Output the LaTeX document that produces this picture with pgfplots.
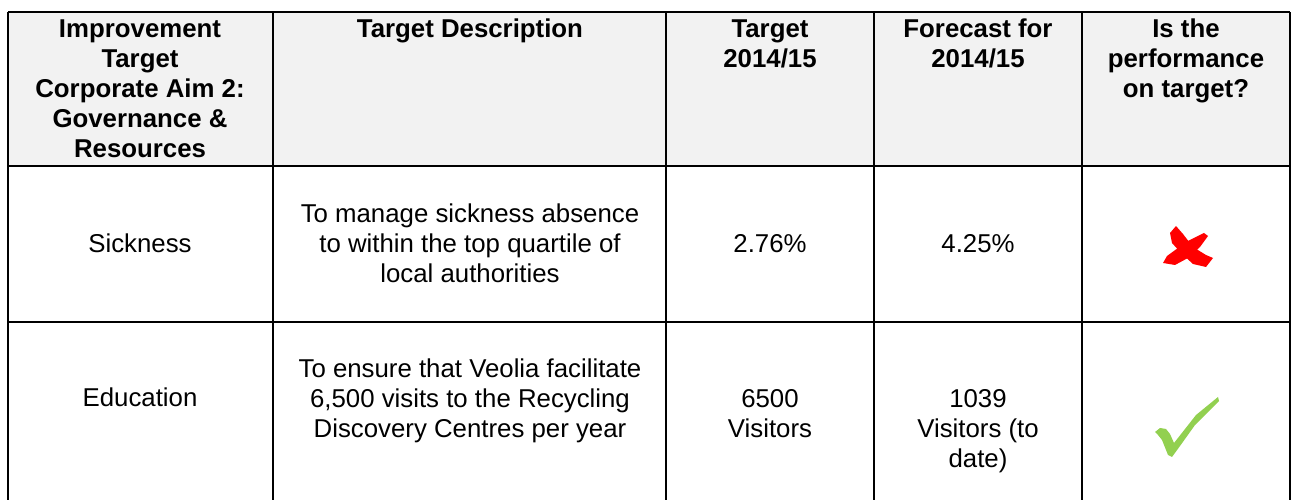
\documentclass[border=0pt]{standalone}
\usepackage{fontspec}
\setmainfont{Liberation Sans}
\usepackage{pgfplots}
\pgfplotsset{compat=1.18}
\definecolor{hdrgray}{HTML}{F2F2F2}
\definecolor{okgreen}{HTML}{92D050}
\definecolor{badred}{HTML}{FF0000}

\begin{document}
\begin{tikzpicture}[
    cell/.style={font=\fontsize{12.9}{15}\selectfont, anchor=base, inner sep=0pt},
    head/.style={font=\fontsize{12.9}{15}\selectfont\bfseries, anchor=base, inner sep=0pt},
]
\begin{axis}[
    scale only axis,
    width=646pt, height=250pt,
    xmin=0, xmax=1292, ymin=0, ymax=500,
    y dir=reverse,
    hide axis,
    clip=false,
]
% page extent
\addplot[draw=none, forget plot] coordinates {(0,0) (1292,500)};
% header shading
\fill[hdrgray] (axis cs:8,12) rectangle (axis cs:1290,166);

% grid lines
\addplot[black, line width=0.8pt] coordinates {(8,12) (1290,12)};
\addplot[black, line width=0.8pt] coordinates {(8,166) (1290,166)};
\addplot[black, line width=0.8pt] coordinates {(8,322) (1290,322)};
\addplot[black, line width=0.8pt] coordinates {(8,12) (8,500)};
\addplot[black, line width=0.8pt] coordinates {(273,12) (273,500)};
\addplot[black, line width=0.8pt] coordinates {(666,12) (666,500)};
\addplot[black, line width=0.8pt] coordinates {(874,12) (874,500)};
\addplot[black, line width=0.8pt] coordinates {(1082,12) (1082,500)};
\addplot[black, line width=0.8pt] coordinates {(1290,12) (1290,500)};

% header text
\node[head] at (axis cs:140,38) {Improvement};
\node[head] at (axis cs:140,68) {Target};
\node[head] at (axis cs:140,98) {Corporate Aim 2:};
\node[head] at (axis cs:140,128) {Governance \&};
\node[head] at (axis cs:140,158) {Resources};
\node[head] at (axis cs:470,38) {Target Description};
\node[head] at (axis cs:770,38) {Target};
\node[head] at (axis cs:770,68) {2014/15};
\node[head] at (axis cs:978,38) {Forecast for};
\node[head] at (axis cs:978,68) {2014/15};
\node[head] at (axis cs:1186,38) {Is the};
\node[head] at (axis cs:1186,68) {performance};
\node[head] at (axis cs:1186,98) {on target?};

% row 1
\node[cell] at (axis cs:140,253) {Sickness};
\node[cell] at (axis cs:470,223) {To manage sickness absence};
\node[cell] at (axis cs:470,253) {to within the top quartile of};
\node[cell] at (axis cs:470,283) {local authorities};
\node[cell] at (axis cs:770,253) {2.76\%};
\node[cell] at (axis cs:978,253) {4.25\%};

% row 2
\node[cell] at (axis cs:140,407) {Education};
\node[cell] at (axis cs:470,378) {To ensure that Veolia facilitate};
\node[cell] at (axis cs:470,408) {6,500 visits to the Recycling};
\node[cell] at (axis cs:470,438) {Discovery Centres per year};
\node[cell] at (axis cs:770,408) {6500};
\node[cell] at (axis cs:770,438) {Visitors};
\node[cell] at (axis cs:978,408) {1039};
\node[cell] at (axis cs:978,438) {Visitors (to};
\node[cell] at (axis cs:978,468) {date)};

% red cross (two brush strokes)
\fill[badred] (axis cs:1170,233) -- (axis cs:1176,226) -- (axis cs:1183,234)
    -- (axis cs:1193,247) -- (axis cs:1206,255) -- (axis cs:1213,258)
    -- (axis cs:1206,267) -- (axis cs:1193,264) -- (axis cs:1181,253)
    -- (axis cs:1172,243) -- cycle;
\fill[badred] (axis cs:1196,237) -- (axis cs:1204,233) -- (axis cs:1208,236)
    -- (axis cs:1200,247) -- (axis cs:1188,258) -- (axis cs:1175,265)
    -- (axis cs:1163,263) -- (axis cs:1167,256) -- (axis cs:1178,248)
    -- (axis cs:1188,241) -- cycle;

% green tick
\fill[okgreen] (axis cs:1155,432) -- (axis cs:1160,428) -- (axis cs:1166,429)
    -- (axis cs:1170,434) -- (axis cs:1174,443) -- (axis cs:1196,415)
    -- (axis cs:1218,397) -- (axis cs:1219,401) -- (axis cs:1195,425)
    -- (axis cs:1180,446) -- (axis cs:1172,457) -- (axis cs:1168,455)
    -- (axis cs:1162,440) -- (axis cs:1158,435) -- cycle;
\end{axis}
\end{tikzpicture}
\end{document}
